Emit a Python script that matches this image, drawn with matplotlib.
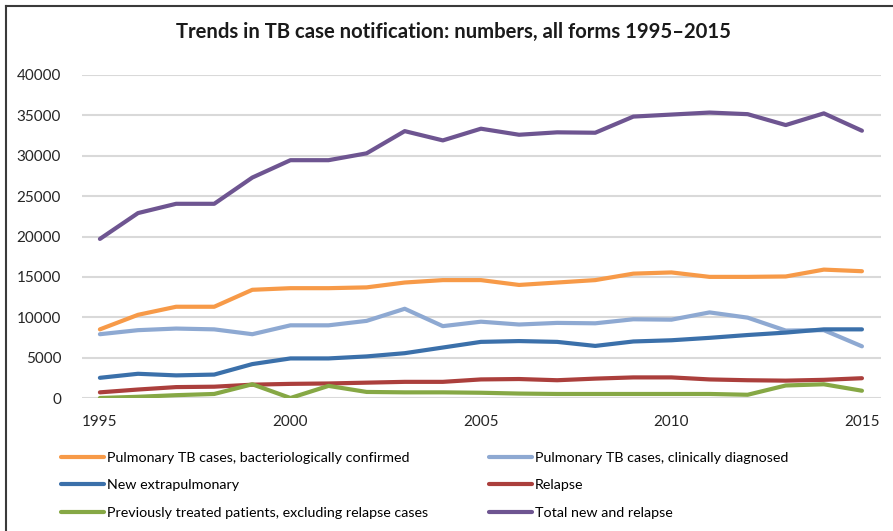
import matplotlib
matplotlib.use('Agg')

import matplotlib.pyplot as plt
from matplotlib.lines import Line2D

plt.rcParams['font.family'] = ['Lato', 'DejaVu Sans']

# Data
years = list(range(1995, 2016))
bact_confirmed = [8500, 10300, 11300, 11300, 13400, 13600, 13600, 13700, 14300, 14600, 14600,
                  14000, 14300, 14600, 15400, 15550, 15000, 15000, 15050, 15900, 15700]
clin_diagnosed = [7900, 8400, 8600, 8500, 7900, 9000, 9000, 9550, 11050, 8900, 9450,
                  9100, 9300, 9250, 9750, 9700, 10600, 9950, 8350, 8400, 6400]
extrapulmonary = [2500, 3000, 2800, 2900, 4200, 4900, 4900, 5150, 5550, 6250, 6950,
                  7050, 6950, 6450, 7000, 7150, 7450, 7800, 8100, 8500, 8500]
relapse = [700, 1050, 1350, 1400, 1650, 1750, 1800, 1900, 2000, 2000, 2300,
           2350, 2200, 2400, 2550, 2550, 2300, 2200, 2150, 2250, 2450]
prev_treated = [0, 150, 350, 500, 1700, 0, 1500, 750, 700, 700, 650,
                550, 500, 500, 500, 500, 500, 400, 1550, 1700, 900]
total_new_relapse = [19700, 22900, 24050, 24050, 27300, 29450, 29450, 30300, 33050, 31900, 33350,
                     32600, 32900, 32850, 34850, 35100, 35350, 35150, 33800, 35250, 33100]

series = [
    ("Pulmonary TB cases, bacteriologically confirmed", bact_confirmed, "#F79A48"),
    ("Pulmonary TB cases, clinically diagnosed", clin_diagnosed, "#8EA9D2"),
    ("New extrapulmonary", extrapulmonary, "#3B70AA"),
    ("Relapse", relapse, "#AB3F3C"),
    ("Previously treated patients, excluding relapse cases", prev_treated, "#86A845"),
    ("Total new and relapse", total_new_relapse, "#6E5591"),
]

W, H = 893, 531
fig = plt.figure(figsize=(W / 100, H / 100), dpi=100)
ax = fig.add_axes([82 / W, 1 - 398 / H, (881 - 82) / W, (398 - 75) / H])

lines = {}
for name, vals, col in series:
    ln, = ax.plot(years, vals, color=col, lw=3, solid_capstyle='round',
                  solid_joinstyle='round', label=name, zorder=3)
    lines[name] = ln

ax.set_xlim(1994.53, 2015.5)
ax.set_ylim(0, 40000)
ax.set_yticks(range(0, 40001, 5000))
ax.set_xticks([1995, 2000, 2005, 2010, 2015])
ax.grid(axis='y', color='#d9d9d9', lw=1.5, zorder=0)
ax.tick_params(length=0, labelsize=11, colors='#262626')
ax.tick_params(axis='y', pad=15)
ax.tick_params(axis='x', pad=12)
for s in ax.spines.values():
    s.set_visible(False)

fig.text(454 / W, 1 - 32 / H, "Trends in TB case notification: numbers, all forms 1995\u20132015",
         ha='center', va='center', fontsize=14.6, fontweight='bold', color='#1a1a1a')

# two legend columns, placed by hand
names = [s[0] for s in series]
col1 = [lines[names[0]], lines[names[2]], lines[names[4]]]
col2 = [lines[names[1]], lines[names[3]], lines[names[5]]]
for handles, x0 in ((col1, 61), (col2, 489)):
    fig.legend(handles=handles, loc='upper left',
               bbox_to_anchor=(x0 / W, 1 - 452 / H), frameon=False,
               fontsize=10.3, handlelength=3.0, handletextpad=0.2,
               labelspacing=1.08, borderaxespad=0, borderpad=0)

# frame around the chart (left and top edges)
fig.add_artist(Line2D([6 / W, 6 / W], [0, 1 - 6 / H], color='#3a3a3a', lw=1.5))
fig.add_artist(Line2D([6 / W, 1], [1 - 6 / H, 1 - 6 / H], color='#3a3a3a', lw=1.5))

fig.savefig("out.png", dpi=100)
